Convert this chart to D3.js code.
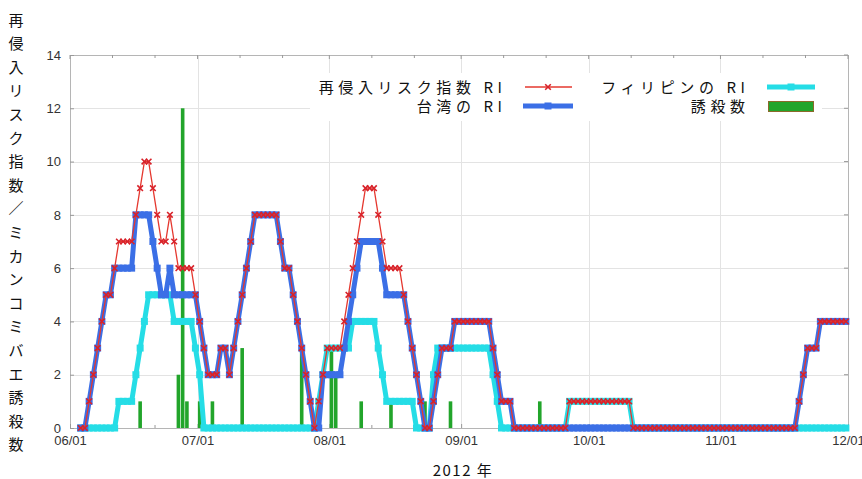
<!DOCTYPE html>
<html><head><meta charset="utf-8">
<script src="https://cdn.jsdelivr.net/npm/d3@7"></script>
<style>
html,body{margin:0;padding:0;background:#fff;}
svg{display:block;}
</style></head><body>
<svg id="chart" width="862" height="479"></svg>
<script>
// Daily series, first value on the start date
const seriesStart = "2012-06-03";

// 再侵入リスク指数 RI
const riskIndex = [
  0,0,1,2,3,4,5,5,6,
  7,7,7,7,8,9,10,10,9,8,
  7,7,8,7,6,6,6,6,5,4,
  3,2,2,2,3,3,2,3,4,5,
  6,7,8,8,8,8,8,8,7,6,
  6,5,4,3,2,1,0,1,2,3,
  3,3,3,4,5,6,7,8,9,9,
  9,8,7,6,6,6,6,5,4,3,
  2,1,0,0,1,2,3,3,3,4,
  4,4,4,4,4,4,4,4,3,2,
  1,1,1,0,0,0,0,0,0,0,
  0,0,0,0,0,0,1,1,1,1,
  1,1,1,1,1,1,1,1,1,1,
  1,0,0,0,0,0,0,0,0,0,
  0,0,0,0,0,0,0,0,0,0,
  0,0,0,0,0,0,0,0,0,0,
  0,0,0,0,0,0,0,0,0,0,
  1,2,3,3,3,4,4,4,4,4,
  4,4
];

// 台湾の RI
const taiwanRI = [
  0,0,1,2,3,4,5,5,6,
  6,6,6,6,8,8,8,8,7,6,
  5,5,6,5,5,5,5,5,5,4,
  3,2,2,2,3,3,2,3,4,5,
  6,7,8,8,8,8,8,8,7,6,
  6,5,4,3,2,1,0,0,2,2,
  2,2,2,3,4,5,6,7,7,7,
  7,7,6,5,5,5,5,5,4,3,
  2,1,0,0,1,2,3,3,3,4,
  4,4,4,4,4,4,4,4,3,2,
  1,1,1,0,0,0,0,0,0,0,
  0,0,0,0,0,0,0,0,0,0,
  0,0,0,0,0,0,0,0,0,0,
  0,0,0,0,0,0,0,0,0,0,
  0,0,0,0,0,0,0,0,0,0,
  0,0,0,0,0,0,0,0,0,0,
  0,0,0,0,0,0,0,0,0,0,
  1,2,3,3,3,4,4,4,4,4,
  4,4
];

// フィリピンの RI
const philippinesRI = [
  0,0,0,0,0,0,0,0,0,
  1,1,1,1,2,3,4,5,5,5,
  5,5,5,4,4,4,4,4,3,2,
  0,0,0,0,0,0,0,0,0,0,
  0,0,0,0,0,0,0,0,0,0,
  0,0,0,0,0,0,0,1,2,3,
  3,3,3,3,3,4,4,4,4,4,
  4,3,2,1,1,1,1,1,1,1,
  0,0,0,0,2,3,3,3,3,3,
  3,3,3,3,3,3,3,3,2,1,
  0,0,0,0,0,0,0,0,0,0,
  0,0,0,0,0,0,1,1,1,1,
  1,1,1,1,1,1,1,1,1,1,
  1,0,0,0,0,0,0,0,0,0,
  0,0,0,0,0,0,0,0,0,0,
  0,0,0,0,0,0,0,0,0,0,
  0,0,0,0,0,0,0,0,0,0,
  0,0,0,0,0,0,0,0,0,0,
  0,0
];

// 誘殺数 (trap catches)
const trapDates = ["2012-06-17","2012-06-26","2012-06-27","2012-06-28","2012-07-01","2012-07-04",
  "2012-07-11","2012-07-25","2012-08-01","2012-08-02","2012-08-08","2012-08-15",
  "2012-08-23","2012-08-29","2012-09-19"];
const trapCounts = [1,2,12,1,1,1,3,3,3,2,1,1,1,1,1];

const yTicks = [0,2,4,6,8,10,12,14];
const xDomain = ["2012-06-01","2012-12-01"];
const legendNames = ["再侵入リスク指数 RI","フィリピンの RI","台湾の RI","誘殺数"];
const yTitle = "再侵入リスク指数／ミカンコミバエ誘殺数";
const xTitle = "2012 年";

const colors = {risk:"#e5382f", riskMark:"#d8222a", taiwan:"#3b6fe6", phil:"#25dde6", trap:"#22a52b", trapEdge:"#8a6a2a"};
const jp = "'Noto Sans CJK JP','Noto Sans',sans-serif";
const latin = "'Liberation Sans',Arial,sans-serif";

const svg = d3.select("#chart");
const M = {left:70, right:848, top:55, bottom:428};
const parse = d3.timeParse("%Y-%m-%d");
const x = d3.scaleTime().domain(xDomain.map(parse)).range([M.left, M.right]);
const y = d3.scaleLinear().domain([0,14]).range([M.bottom, M.top]);
const t0 = parse(seriesStart);
// each daily value sits at midday of its date
const dayAt = i => d3.timeHour.offset(d3.timeDay.offset(t0, i), 12);
const noon = d => d3.timeHour.offset(parse(d), 12);

const months = d3.timeMonth.range(x.domain()[0], d3.timeDay.offset(x.domain()[1],1));
const minorDays = d3.timeDay.range(x.domain()[0], x.domain()[1]).filter(d => d.getDate()===11 || d.getDate()===21);

// gridlines
const grid = svg.append("g").attr("stroke","#e3e3e3").attr("stroke-width",1);
grid.selectAll("line.v").data(months.slice(1,-1)).join("line")
  .attr("x1",d=>Math.round(x(d))+0.5).attr("x2",d=>Math.round(x(d))+0.5)
  .attr("y1",M.top).attr("y2",M.bottom);
grid.selectAll("line.h").data(yTicks.slice(1,-1)).join("line")
  .attr("y1",d=>Math.round(y(d))+0.5).attr("y2",d=>Math.round(y(d))+0.5)
  .attr("x1",M.left).attr("x2",M.right);

// frame
svg.append("rect").attr("x",M.left+0.5).attr("y",M.top+0.5)
  .attr("width",M.right-M.left).attr("height",M.bottom-M.top)
  .attr("fill","none").attr("stroke","#b5b5b5");

// axes
const fmt = d3.timeFormat("%m/%d");
const xAxis = svg.append("g").attr("transform",`translate(0,${M.bottom})`)
  .call(d3.axisBottom(x).tickValues(months).tickFormat(fmt).tickSizeInner(-4).tickSizeOuter(0).tickPadding(8));
const yAxis = svg.append("g").attr("transform",`translate(${M.left},0)`)
  .call(d3.axisLeft(y).tickValues(yTicks).tickSizeInner(-4).tickSizeOuter(0).tickPadding(9));
[xAxis,yAxis].forEach(g=>{
  g.select(".domain").remove();
  g.selectAll(".tick line").attr("stroke","#999");
  g.selectAll(".tick text").attr("fill","#333").style("font-family",latin).style("font-size","13px");
});
// mirrored ticks on top and right, minor ticks on top and bottom
const tk = svg.append("g").attr("stroke","#999");
tk.selectAll("line.t").data(months).join("line")
  .attr("x1",d=>x(d)).attr("x2",d=>x(d)).attr("y1",M.top).attr("y2",M.top+4);
tk.selectAll("line.mt").data(minorDays).join("line")
  .attr("x1",d=>x(d)).attr("x2",d=>x(d)).attr("y1",M.top).attr("y2",M.top+3);
tk.selectAll("line.mb").data(minorDays).join("line")
  .attr("x1",d=>x(d)).attr("x2",d=>x(d)).attr("y1",M.bottom).attr("y2",M.bottom-3);
tk.selectAll("line.r").data(yTicks).join("line")
  .attr("y1",d=>y(d)).attr("y2",d=>y(d)).attr("x1",M.right).attr("x2",M.right-4);

// trap-catch bars
const barW = 3.6;
svg.append("g").selectAll("rect").data(trapDates).join("rect")
  .attr("x",(d)=>x(noon(d))-barW/2).attr("width",barW)
  .attr("y",(d,i)=>y(trapCounts[i])).attr("height",(d,i)=>y(0)-y(trapCounts[i]))
  .attr("fill",colors.trap);

const line = d3.line().x((d,i)=>x(dayAt(i))).y(d=>y(d));

function thickSeries(values, color){
  const g = svg.append("g");
  g.append("path").datum(values).attr("d",line).attr("fill","none")
    .attr("stroke",color).attr("stroke-width",5).attr("stroke-linejoin","round");
  g.selectAll("rect").data(values).join("rect")
    .attr("x",(d,i)=>x(dayAt(i))-3.5).attr("y",d=>y(d)-3.5)
    .attr("width",7).attr("height",7).attr("fill",color);
}
thickSeries(philippinesRI, colors.phil);
thickSeries(taiwanRI, colors.taiwan);

const rg = svg.append("g");
rg.append("path").datum(riskIndex).attr("d",line).attr("fill","none")
  .attr("stroke",colors.risk).attr("stroke-width",1.3);
const xMark = "M-2.8,-2.8L2.8,2.8M-2.8,2.8L2.8,-2.8";
rg.selectAll("path.m").data(riskIndex).join("path")
  .attr("transform",(d,i)=>`translate(${x(dayAt(i))},${y(d)})`)
  .attr("d",xMark).attr("stroke",colors.riskMark).attr("stroke-width",1.6).attr("fill","none");

// legend
const lg = svg.append("g");
lg.append("rect").attr("x",310).attr("y",73).attr("width",512).attr("height",48).attr("fill","#fff");
const ls = 4.6;
const legendText = (txt, xe, yb) => lg.append("text").attr("x",xe+ls).attr("y",yb)
  .attr("text-anchor","end").style("font-family",jp).style("font-size","15px")
  .style("letter-spacing",ls+"px").attr("fill","#111").text(txt);
legendText(legendNames[0], 502, 93);
legendText(legendNames[1], 745, 93);
legendText(legendNames[2], 502, 112);
legendText(legendNames[3], 745, 112);
lg.append("line").attr("x1",525).attr("x2",572).attr("y1",87).attr("y2",87)
  .attr("stroke",colors.risk).attr("stroke-width",1.5);
lg.append("path").attr("transform","translate(548,87)").attr("d",xMark)
  .attr("stroke",colors.riskMark).attr("stroke-width",1.6);
lg.append("line").attr("x1",767).attr("x2",815).attr("y1",87).attr("y2",87)
  .attr("stroke",colors.phil).attr("stroke-width",5);
lg.append("rect").attr("x",787.5).attr("y",83.5).attr("width",7).attr("height",7).attr("fill",colors.phil);
lg.append("line").attr("x1",523).attr("x2",573).attr("y1",106).attr("y2",106)
  .attr("stroke",colors.taiwan).attr("stroke-width",5);
lg.append("rect").attr("x",544.5).attr("y",102.5).attr("width",7).attr("height",7).attr("fill",colors.taiwan);
lg.append("rect").attr("x",768.5).attr("y",101.5).attr("width",45).attr("height",10)
  .attr("fill",colors.trap).attr("stroke",colors.trapEdge).attr("stroke-width",1);

// axis titles
svg.append("g").selectAll("text").data(Array.from(yTitle)).join("text")
  .attr("x",16).attr("y",(d,i)=>19+i*23.6).attr("text-anchor","middle")
  .attr("dominant-baseline","central").style("font-family",jp).style("font-size","15px")
  .attr("fill","#111").text(d=>d);
svg.append("text").attr("x",463).attr("y",476).attr("text-anchor","middle")
  .style("font-family",jp).style("font-size","15px").style("letter-spacing","1.5px")
  .attr("fill","#111").text(xTitle);
</script>
</body></html>
